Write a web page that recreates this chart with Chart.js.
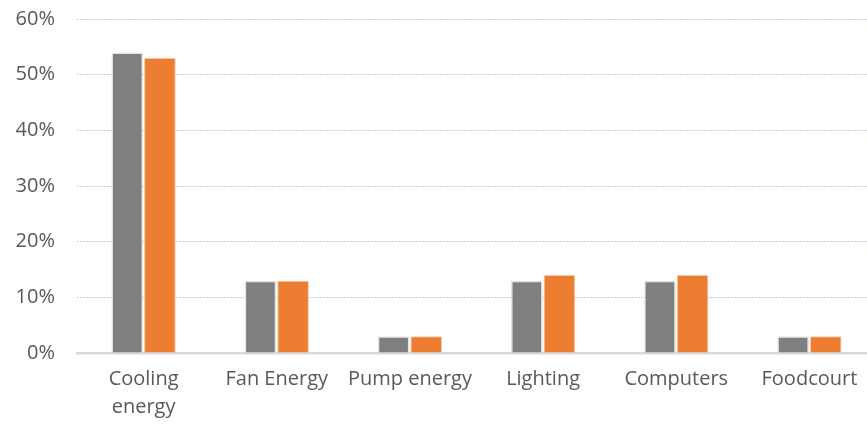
<!DOCTYPE html>
<html>
<head>
<meta charset="utf-8">
<script src="https://cdn.jsdelivr.net/npm/chart.js@4/dist/chart.umd.min.js"></script>
<style>
  html, body { margin: 0; padding: 0; background: #fff; overflow: hidden; }
  #wrap { width: 876px; height: 425px; position: relative; }
</style>
</head>
<body>
<div id="wrap"><canvas id="c"></canvas></div>
<script>
// Energy end-use shares by category, two series
const categories = [['Cooling', 'energy'], 'Fan Energy', 'Pump energy', 'Lighting', 'Computers', 'Foodcourt'];
const seriesA = [54, 13, 3, 13, 13, 3];
const seriesB = [53, 13, 3, 14, 14, 3];
const yTicks = [0, 10, 20, 30, 40, 50, 60];

const labelFont = { family: '"Open Sans", "Noto Sans", sans-serif', size: 20, lineHeight: 1.4 };

new Chart(document.getElementById('c'), {
  type: 'bar',
  data: {
    labels: categories,
    datasets: [
      {
        data: seriesA,
        backgroundColor: '#7f7f7f',
        borderColor: '#e3e3e3',
        borderWidth: 1.5,
        barPercentage: 0.97,
        categoryPercentage: 0.49
      },
      {
        data: seriesB,
        backgroundColor: '#ed7d31',
        borderColor: '#f6c8a6',
        borderWidth: 1,
        barPercentage: 0.97,
        categoryPercentage: 0.49
      }
    ]
  },
  options: {
    responsive: true,
    maintainAspectRatio: false,
    animation: false,
    layout: { padding: { top: 0, right: 0, left: 0, bottom: 0 } },
    plugins: {
      legend: { display: false },
      tooltip: { enabled: false }
    },
    scales: {
      x: {
        grid: { display: false },
        border: { display: true, color: '#d9d9d9', width: 2.5 },
        ticks: {
          color: '#595959',
          font: labelFont,
          padding: 4,
          maxRotation: 0,
          autoSkip: false
        }
      },
      y: {
        min: 0,
        max: 60,
        afterFit: (axis) => { axis.width = 77; },
        afterBuildTicks: (axis) => { axis.ticks = yTicks.map(v => ({ value: v })); },
        border: { display: false, dash: [2, 1] },
        grid: {
          color: (ctx) => ctx.tick && ctx.tick.value === 0 ? 'rgba(0,0,0,0)' : '#c4d2f2',
          lineWidth: 1,
          drawTicks: true,
          tickLength: 15,
          tickColor: 'rgba(0,0,0,0)'
        },
        ticks: {
          color: '#595959',
          font: { family: labelFont.family, size: 20 },
          padding: 7,
          callback: (v) => v + '%'
        }
      }
    }
  }
});
</script>
</body>
</html>
